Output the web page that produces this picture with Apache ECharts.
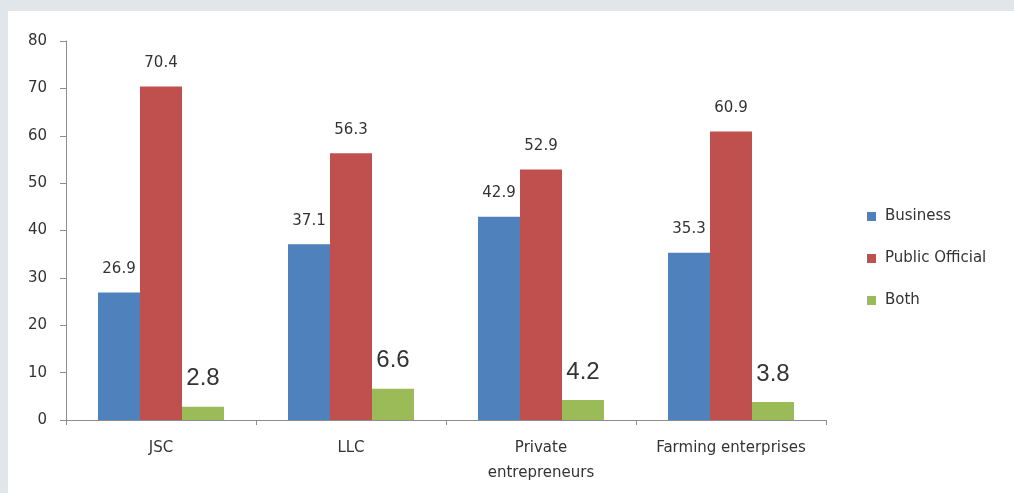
<!DOCTYPE html>
<html>
<head>
<meta charset="utf-8">
<script src="https://cdn.jsdelivr.net/npm/echarts@6/dist/echarts.min.js"></script>
<style>
  html, body { margin: 0; padding: 0; background: #e1e6ea; }
  #frame { position: absolute; left: 8px; top: 11px; right: 0; bottom: 0; background: #ffffff; }
  #chart { position: absolute; left: 0; top: 0; width: 1014px; height: 493px; }
</style>
</head>
<body>
<div id="frame"></div>
<div id="chart"></div>
<script>
// Share of respondents by enterprise type
const categories = ['JSC', 'LLC', 'Private\nentrepreneurs', 'Farming enterprises'];
const business = [26.9, 37.1, 42.9, 35.3];
const publicOfficial = [70.4, 56.3, 52.9, 60.9];
const both = [2.8, 6.6, 4.2, 3.8];
const yTicks = { min: 0, max: 80, interval: 10 };

const font = '"DejaVu Sans", Verdana, sans-serif';
const bigFont = '"Liberation Sans", Arial, sans-serif';
const axisGray = '#8c8c8c';
const textColor = '#333333';

function barSeries(name, data, color, labelFont, labelSize) {
  return {
    name: name,
    type: 'bar',
    data: data,
    barWidth: 42,
    barGap: '0%',
    itemStyle: { color: color },
    label: {
      show: true,
      position: 'top',
      distance: 16,
      color: textColor,
      fontFamily: labelFont,
      fontSize: labelSize
    }
  };
}

const chart = echarts.init(document.getElementById('chart'), null, { renderer: 'canvas' });
chart.setOption({
  backgroundColor: 'transparent',
  animation: false,
  grid: { left: 66, right: 188, top: 41, bottom: 73, containLabel: false },
  legend: {
    orient: 'vertical',
    left: 867,
    top: 209,
    padding: 0,
    itemWidth: 9,
    itemHeight: 9,
    itemGap: 27,
    icon: 'rect',
    textStyle: { fontFamily: font, fontSize: 15, color: textColor, padding: [0, 0, 0, 4] },
    data: ['Business', 'Public Official', 'Both']
  },
  xAxis: {
    type: 'category',
    data: categories,
    axisLine: { lineStyle: { color: axisGray } },
    axisTick: { show: true, length: 5, lineStyle: { color: axisGray } },
    axisLabel: {
      fontFamily: font, fontSize: 15, color: textColor,
      margin: 16, lineHeight: 25, interval: 0
    }
  },
  yAxis: {
    type: 'value',
    min: yTicks.min,
    max: yTicks.max,
    interval: yTicks.interval,
    axisLine: { show: true, lineStyle: { color: axisGray } },
    axisTick: { show: true, length: 6, lineStyle: { color: axisGray } },
    splitLine: { show: false },
    axisLabel: { fontFamily: font, fontSize: 15, color: textColor, margin: 19 }
  },
  series: [
    barSeries('Business', business, '#4f81bd', font, 15),
    barSeries('Public Official', publicOfficial, '#c0504d', font, 15),
    barSeries('Both', both, '#9bbb59', bigFont, 24)
  ]
});
</script>
</body>
</html>
